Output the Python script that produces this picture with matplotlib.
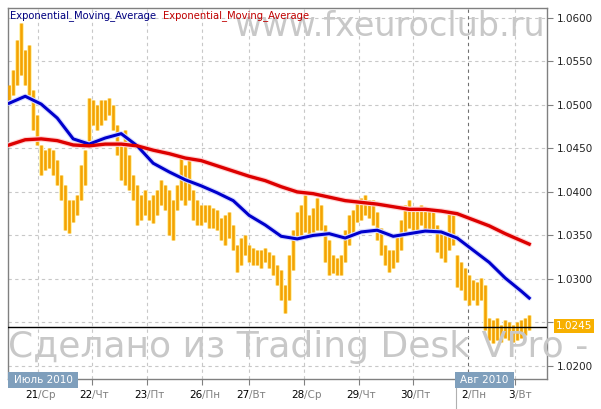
import numpy as np
import matplotlib
matplotlib.use("Agg")
import matplotlib.pyplot as plt
import matplotlib.transforms as mtransforms
from matplotlib.patches import Rectangle
from matplotlib.lines import Line2D

# бары EUR/CHF (high / low), один бар на индекс
highs = [1.0523, 1.0540, 1.0575, 1.0594, 1.0563, 1.0569, 1.0517, 1.0489, 1.0454, 1.0448,
         1.0451, 1.0448, 1.0437, 1.0419, 1.0408, 1.0391, 1.0391, 1.0396, 1.0431, 1.0448,
         1.0508, 1.0506, 1.0500, 1.0506, 1.0506, 1.0508, 1.0500, 1.0477, 1.0454, 1.0471,
         1.0442, 1.0419, 1.0408, 1.0396, 1.0402, 1.0391, 1.0396, 1.0402, 1.0414, 1.0408,
         1.0402, 1.0391, 1.0408, 1.0439, 1.0431, 1.0437, 1.0402, 1.0391, 1.0385, 1.0385,
         1.0385, 1.0382, 1.0379, 1.0370, 1.0373, 1.0377, 1.0362, 1.0339, 1.0347, 1.0350,
         1.0339, 1.0336, 1.0333, 1.0333, 1.0336, 1.0331, 1.0327, 1.0316, 1.0310, 1.0293,
         1.0327, 1.0356, 1.0377, 1.0385, 1.0396, 1.0373, 1.0382, 1.0393, 1.0385, 1.0362,
         1.0345, 1.0327, 1.0324, 1.0327, 1.0356, 1.0373, 1.0379, 1.0391, 1.0393, 1.0396,
         1.0391, 1.0391, 1.0377, 1.0358, 1.0339, 1.0333, 1.0333, 1.0350, 1.0368, 1.0385,
         1.0391, 1.0383, 1.0382, 1.0385, 1.0379, 1.0382, 1.0377, 1.0362, 1.0356, 1.0350,
         1.0379, 1.0373, 1.0327, 1.0319, 1.0312, 1.0304, 1.0299, 1.0296, 1.0301, 1.0293,
         1.0255, 1.0253, 1.0255, 1.0247, 1.0253, 1.0250, 1.0247, 1.0250, 1.0253, 1.0255,
         1.0258]
lows = [1.0506, 1.0511, 1.0523, 1.0534, 1.0523, 1.0511, 1.0471, 1.0454, 1.0419, 1.0425,
        1.0428, 1.0419, 1.0408, 1.0391, 1.0356, 1.0353, 1.0365, 1.0373, 1.0391, 1.0408,
        1.0454, 1.0477, 1.0471, 1.0477, 1.0483, 1.0489, 1.0471, 1.0442, 1.0414, 1.0408,
        1.0402, 1.0391, 1.0362, 1.0368, 1.0373, 1.0368, 1.0364, 1.0373, 1.0385, 1.0379,
        1.0350, 1.0345, 1.0379, 1.0391, 1.0385, 1.0391, 1.0368, 1.0362, 1.0362, 1.0365,
        1.0358, 1.0358, 1.0356, 1.0345, 1.0339, 1.0347, 1.0333, 1.0308, 1.0316, 1.0327,
        1.0319, 1.0316, 1.0316, 1.0312, 1.0319, 1.0312, 1.0304, 1.0293, 1.0276, 1.0261,
        1.0276, 1.0310, 1.0345, 1.0350, 1.0354, 1.0350, 1.0354, 1.0356, 1.0356, 1.0319,
        1.0304, 1.0307, 1.0304, 1.0304, 1.0319, 1.0339, 1.0350, 1.0365, 1.0368, 1.0373,
        1.0370, 1.0362, 1.0345, 1.0327, 1.0316, 1.0308, 1.0312, 1.0319, 1.0333, 1.0350,
        1.0358, 1.0356, 1.0354, 1.0362, 1.0354, 1.0356, 1.0354, 1.0331, 1.0324, 1.0319,
        1.0333, 1.0339, 1.0291, 1.0287, 1.0276, 1.0270, 1.0276, 1.0270, 1.0276, 1.0241,
        1.0230, 1.0226, 1.0230, 1.0228, 1.0232, 1.0230, 1.0228, 1.0230, 1.0232, 1.0235,
        1.0241]

# две EMA, значения каждые 4 бара
ema_idx = list(range(0, 129, 4)) + [130]
ema_fast = [1.0502, 1.0510, 1.0501, 1.0485, 1.0461, 1.0455, 1.0462, 1.0467, 1.0453, 1.0433,
            1.0423, 1.0414, 1.0407, 1.0399, 1.0390, 1.0373, 1.0362, 1.0349, 1.0346, 1.0350,
            1.0352, 1.0347, 1.0354, 1.0356, 1.0349, 1.0352, 1.0355, 1.0354, 1.0347, 1.0333,
            1.0319, 1.0301, 1.0286, 1.0278]
ema_slow = [1.0454, 1.0460, 1.0461, 1.0459, 1.0454, 1.0453, 1.0455, 1.0455, 1.0453, 1.0448,
            1.0444, 1.0439, 1.0436, 1.0430, 1.0424, 1.0418, 1.0413, 1.0406, 1.0400, 1.0398,
            1.0394, 1.0390, 1.0388, 1.0386, 1.0383, 1.0380, 1.0380, 1.0378, 1.0375, 1.0368,
            1.0361, 1.0352, 1.0344, 1.0340]

last_price = 1.0245
y_ticks = [1.0200, 1.0250, 1.0300, 1.0350, 1.0400, 1.0450, 1.0500, 1.0550, 1.0600]

day_pos = [7.25, 20.75, 34.5, 48.25, 60, 73.75, 87.5, 101, 114.75, 126.5]
day_num = ["21", "22", "23", "26", "27", "28", "29", "30", "2", "3"]
day_wd = ["Ср", "Чт", "Пт", "Пн", "Вт", "Ср", "Чт", "Пт", "Пн", "Вт"]
month_start = 8  # индекс дня, с которого август

fig = plt.figure(figsize=(6.01, 4.09), dpi=100)
fig.patch.set_facecolor("white")
ax = fig.add_axes([8 / 601, 30 / 409, 539 / 601, 371 / 409])

idx = np.arange(len(highs))
ax.vlines(idx, lows, highs, color="#fff2b0", linewidth=3.6, zorder=2)
ax.vlines(idx, lows, highs, color="#f5a300", linewidth=1.9, zorder=3)

ax.plot(ema_idx, ema_fast, color="#d8dcff", linewidth=3.8, zorder=4, solid_capstyle="round")
ax.plot(ema_idx, ema_fast, color="#0000cc", linewidth=2.2, zorder=5)
ax.plot(ema_idx, ema_slow, color="#ffd4d4", linewidth=4.0, zorder=4, solid_capstyle="round")
ax.plot(ema_idx, ema_slow, color="#dd0000", linewidth=2.4, zorder=5)

ax.axhline(last_price, color="black", linewidth=1.0, zorder=6)

ax.set_xlim(-0.3, 134.45)
ax.set_ylim(1.01849, 1.06115)

for y in y_ticks:
    ax.axhline(y, color="#c8c8c8", linewidth=0.8, linestyle=(0, (3, 3)), zorder=1)
for i, p in enumerate(day_pos):
    c = "#707070" if i == month_start else "#c8c8c8"
    ax.axvline(p, color=c, linewidth=0.8, linestyle=(0, (3, 3)), zorder=1)

ax.yaxis.tick_right()
ax.set_yticks(y_ticks)
# подпись 1.0250 закрыта меткой последней цены
ax.set_yticklabels(["" if abs(v - last_price) < 0.001 else f"{v:.4f}" for v in y_ticks])
ax.tick_params(axis="y", length=4, width=0.8, color="#808080", pad=3,
               labelsize=7.5, labelcolor="#222222")
ax.set_xticks(day_pos)
ax.set_xticklabels([])
ax.tick_params(axis="x", length=4, width=0.8, color="#808080", direction="out")
for s in ax.spines.values():
    s.set_color("#808080")
    s.set_linewidth(1.0)

# подписи дней: число чёрным, день недели серым
tr = mtransforms.blended_transform_factory(ax.transData, fig.transFigure)
for p, n, w in zip(day_pos, day_num, day_wd):
    fig.text(p, 14 / 409, n, transform=tr, ha="right", va="center", fontsize=7.5, color="black")
    fig.text(p, 14 / 409, "/" + w, transform=tr, ha="left", va="center", fontsize=7.5, color="#808080")

# месяцы
fig.add_artist(Rectangle((8 / 601, 21 / 409), 70 / 601, 16 / 409, transform=fig.transFigure,
                         facecolor="#7f9fbc", edgecolor="none", zorder=10))
fig.text(43 / 601, 29 / 409, "Июль 2010", ha="center", va="center", fontsize=7.5,
         color="white", zorder=11)
fig.add_artist(Rectangle((455 / 601, 21 / 409), 59 / 601, 16 / 409, transform=fig.transFigure,
                         facecolor="#7f9fbc", edgecolor="none", zorder=10))
fig.add_artist(Line2D([455.5 / 601, 455.5 / 601], [0, 21 / 409], transform=fig.transFigure,
                      color="#b0b0b0", linewidth=0.8))
fig.text(484 / 601, 29 / 409, "Авг 2010", ha="center", va="center", fontsize=7.5,
         color="white", zorder=11)

# метка последней цены
fig.text(574 / 601, 1 - 326 / 409, f"{last_price:.4f}", ha="center", va="center", fontsize=7.5,
         color="white", zorder=12,
         bbox=dict(boxstyle="square,pad=0.18", facecolor="#f7b000", edgecolor="none"))

# водяные знаки
fig.text(545 / 601, 1 - 27 / 409, "www.fxeuroclub.ru", ha="right", va="center",
         fontsize=24, color="#c8c8c8", zorder=1)
fig.text(8 / 601, 1 - 347 / 409, "Сделано из Trading Desk VPro -", ha="left", va="center",
         fontsize=26, color="#c8c8c8", zorder=1)

# легенда
fig.text(10 / 601, 1 - 16 / 409, "Exponential_Moving_Average", ha="left", va="center",
         fontsize=7.2, color="#000080")
fig.text(163 / 601, 1 - 16 / 409, "Exponential_Moving_Average", ha="left", va="center",
         fontsize=7.2, color="#c00000")

fig.savefig("out.png", dpi=100, facecolor="white")
